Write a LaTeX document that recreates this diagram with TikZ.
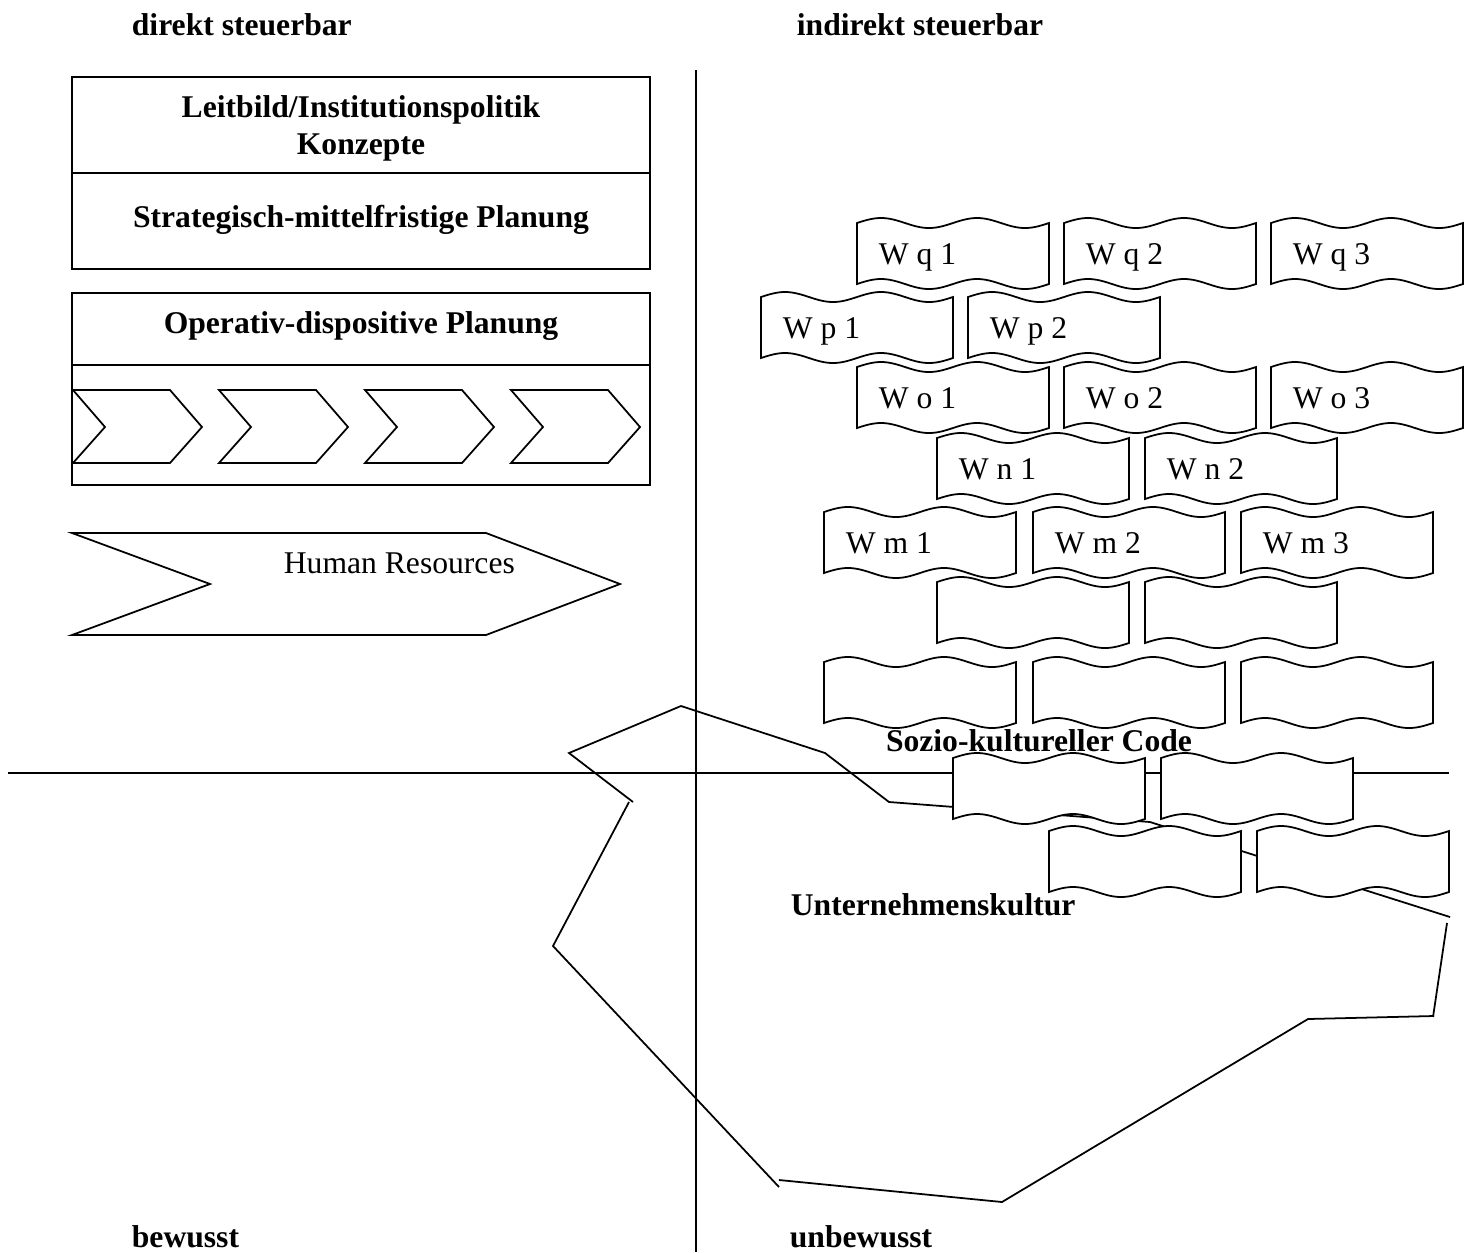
\documentclass[tikz,border=0pt]{standalone}
\usepackage{fontspec}
\setmainfont{Liberation Serif}
\usetikzlibrary{positioning}

\tikzset{
  txt/.style={inner sep=0pt, anchor=base west},
  hdr/.style={inner sep=0pt, anchor=base, font=\fontsize{18pt}{21pt}\selectfont\bfseries},
  pics/brick/.style={code={
    \draw[fill=white] (0,0) sin (24,-5) cos (48,0) sin (72,5) cos (96,0)
      sin (120,-5) cos (144,0) sin (168,5) cos (192,0) -- (192,61)
      sin (168,66) cos (144,61) sin (120,56) cos (96,61)
      sin (72,66) cos (48,61) sin (24,56) cos (0,61) -- cycle;
    \node[txt] (-lbl) at (21,41) {#1};
  }}
}

\begin{document}
\begin{tikzpicture}[x=0.02cm, y=-0.02cm, line width=1pt,
    font=\fontsize{18pt}{21pt}\selectfont]
    \useasboundingbox (0,0) rectangle (1477,1252);

    % quadrants
    \draw (696,70) -- (696,1252);
    \draw (8,773) -- (1449,773);

    % left side: planning
    \draw (72,77) rectangle (650,269);
    \draw (72,173) -- (650,173);
    \draw (72,293) rectangle (650,485);
    \draw (72,365) -- (650,365);
    \node[hdr] (leit) at (361,117) {Leitbild/Institutionspolitik};
    \node[hdr] (konz) at (361,154) {Konzepte};
    \node[hdr] (strat) at (361,227) {Strategisch-mittelfristige Planung};
    \node[hdr] (oper) at (361,333) {Operativ-dispositive Planung};
    \foreach \i in {0,...,3}
        \draw[shift={(146*\i,0)}] (73,390) -- (170,390) -- (202,427)
            -- (170,463) -- (73,463) -- (105,427) -- cycle;

    \draw (72,533) -- (486,533) -- (620,584) -- (486,635) -- (72,635) -- (210,584) -- cycle;
    \node[txt] (hr) at (283,573) {Human Resources};

    % culture outline
    \draw (633,802) -- (569,753) -- (681,706) -- (825,753) -- (889,802)
        -- (1150,822) -- (1450,917);
    \draw (1447,923) -- (1433,1017);
    \draw (1434,1016) -- (1308,1019) -- (1002,1202) -- (779,1180);
    \draw (779,1187) -- (553,946) -- (629,802);

    % wall
    \pic (q1) at (857,223) {brick={W q 1}};
    \pic (q2) at (1064,223) {brick={W q 2}};
    \pic (q3) at (1271,223) {brick={W q 3}};
    \pic (p1) at (761,297) {brick={W p 1}};
    \pic (p2) at (968,297) {brick={W p 2}};
    \pic (o1) at (857,367) {brick={W o 1}};
    \pic (o2) at (1064,367) {brick={W o 2}};
    \pic (o3) at (1271,367) {brick={W o 3}};
    \pic (n1) at (937,438) {brick={W n 1}};
    \pic (n2) at (1145,438) {brick={W n 2}};
    \pic (m1) at (824,512) {brick={W m 1}};
    \pic (m2) at (1033,512) {brick={W m 2}};
    \pic (m3) at (1241,512) {brick={W m 3}};
    \pic (b1) at (937,582) {brick={}};
    \pic (b2) at (1145,582) {brick={}};
    \pic (b3) at (824,662) {brick={}};
    \pic (b4) at (1033,662) {brick={}};
    \pic (b5) at (1241,662) {brick={}};
    \pic (b6) at (953,758) {brick={}};
    \pic (b7) at (1161,758) {brick={}};
    \pic (b8) at (1049,831) {brick={}};
    \pic (b9) at (1257,831) {brick={}};

    \node[hdr] (code) at (1039,751) {Sozio-kultureller Code};
    \node[hdr, anchor=base west] (kultur) at (790,915) {Unternehmenskultur};

    % corner labels
    \node[hdr, anchor=base west] (direkt) at (131,35) {direkt steuerbar};
    \node[hdr, anchor=base west] (indirekt) at (796,35) {indirekt steuerbar};
    \node[hdr, anchor=base west] (bew) at (131,1247) {bewusst};
    \node[hdr, anchor=base west] (unbew) at (789,1247) {unbewusst};
\end{tikzpicture}
\end{document}
